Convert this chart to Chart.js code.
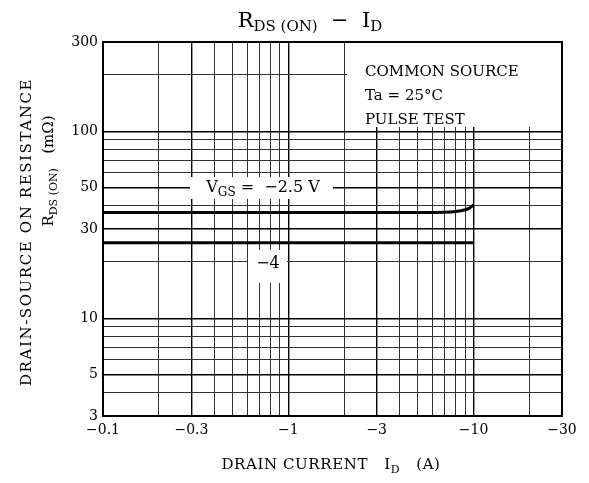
<!DOCTYPE html>
<html>
<head>
<meta charset="utf-8">
<script src="https://cdn.jsdelivr.net/npm/chart.js@4"></script>
<style>
  html, body { margin: 0; padding: 0; background: #fff; }
  canvas { display: block; }
</style>
</head>
<body>
<canvas id="rdsChart" width="589" height="483"></canvas>
<script>
// drain current |ID| (A), plotted on a log axis shown with minus signs
const xGrid = [0.1, 0.2, 0.3, 0.4, 0.5, 0.6, 0.7, 0.8, 0.9, 1, 2, 3, 4, 5, 6, 7, 8, 9, 10, 20, 30];
const xTickLabels = [0.1, 0.3, 1, 3, 10, 30];
const yGrid = [3, 4, 5, 6, 7, 8, 9, 10, 20, 30, 40, 50, 60, 70, 80, 90, 100, 200, 300];
const yTickLabels = [3, 5, 10, 30, 50, 100, 300];

// VGS = -2.5 V
const id25 = [0.1, 1, 5, 7, 8, 9, 9.5, 10];
const rds25 = [36.8, 36.8, 36.8, 36.9, 37.2, 38.0, 38.8, 40.3];
// VGS = -4 V
const id4 = [0.1, 1, 10];
const rds4 = [25.3, 25.3, 25.3];

const serif = '"DejaVu Serif", "Liberation Serif", serif';

function toPoints(xs, ys) {
    return xs.map((x, i) => ({ x: x, y: ys[i] }));
}

// draws text made of pieces, some of them subscripts
function richText(ctx, parts, x, y, align, spacing) {
    ctx.letterSpacing = (spacing || 0) + 'px';
    let total = 0;
    parts.forEach(p => {
        ctx.font = p.size + 'px ' + serif;
        total += ctx.measureText(p.t).width;
    });
    let cx = align === 'center' ? x - total / 2 : x;
    parts.forEach(p => {
        ctx.font = p.size + 'px ' + serif;
        ctx.fillText(p.t, cx, y + (p.dy || 0));
        cx += ctx.measureText(p.t).width;
    });
    ctx.letterSpacing = '0px';
}

const annotations = {
    id: 'annotations',
    beforeDatasetsDraw(chart) {
        const ctx = chart.ctx;
        const a = chart.chartArea;
        ctx.save();
        ctx.fillStyle = '#fff';
        ctx.fillRect(347, a.top + 1, a.right - 348, 84);   // condition box
        ctx.fillRect(190, 177, 143, 22);                   // VGS label
        ctx.fillRect(248, 250, 39, 33);                    // -4 label
        ctx.restore();
    },
    afterDraw(chart) {
        const ctx = chart.ctx;
        const a = chart.chartArea;
        ctx.save();
        ctx.strokeStyle = '#000';
        ctx.lineWidth = 2;
        ctx.strokeRect(a.left, a.top, a.right - a.left, a.bottom - a.top);

        ctx.fillStyle = '#000';
        ctx.textBaseline = 'alphabetic';
        ctx.textAlign = 'left';

        // title
        richText(ctx, [
            { t: 'R', size: 21 },
            { t: 'DS (ON)', size: 15, dy: 4 },
            { t: '  −  I', size: 21 },
            { t: 'D', size: 15, dy: 4 }
        ], 310, 27, 'center');

        // conditions
        ctx.font = '15px ' + serif;
        ctx.fillText('COMMON SOURCE', 365, 76);
        ctx.fillText('Ta = 25°C', 365, 100);
        ctx.fillText('PULSE TEST', 365, 124);

        // curve labels
        richText(ctx, [
            { t: 'V', size: 16 },
            { t: 'GS', size: 12, dy: 4 },
            { t: ' =  −2.5 V', size: 16 }
        ], 263, 192, 'center');
        richText(ctx, [{ t: '−4', size: 16 }], 268, 268, 'center');

        // x axis title
        richText(ctx, [
            { t: 'DRAIN CURRENT   I', size: 15 },
            { t: 'D', size: 11, dy: 4 },
            { t: '   (A)', size: 15 }
        ], 331, 469, 'center', 0.6);

        // y axis title
        ctx.translate(26, 232);
        ctx.rotate(-Math.PI / 2);
        richText(ctx, [{ t: 'DRAIN-SOURCE ON RESISTANCE', size: 15 }], 0, 5, 'center', 1.6);
        richText(ctx, [
            { t: 'R', size: 15 },
            { t: 'DS (ON)', size: 11, dy: 4 },
            { t: '   (mΩ)', size: 15 }
        ], 61, 27, 'center');
        ctx.restore();
    }
};

const gridStyle = labels => ({
    color: ctx => labels.includes(ctx.tick && ctx.tick.value) ? '#000' : '#333',
    lineWidth: ctx => labels.includes(ctx.tick && ctx.tick.value) ? 1.4 : 1,
    drawTicks: false
});

new Chart(document.getElementById('rdsChart'), {
    type: 'line',
    data: {
        datasets: [
            {
                label: 'VGS = -2.5 V',
                data: toPoints(id25, rds25),
                borderColor: '#000',
                borderWidth: 3,
                pointRadius: 0,
                cubicInterpolationMode: 'monotone'
            },
            {
                label: 'VGS = -4 V',
                data: toPoints(id4, rds4),
                borderColor: '#000',
                borderWidth: 3,
                pointRadius: 0
            }
        ]
    },
    options: {
        responsive: false,
        animation: false,
        devicePixelRatio: 1,
        layout: { padding: { left: 0, right: 27, top: 42, bottom: 0 } },
        plugins: {
            legend: { display: false },
            tooltip: { enabled: false }
        },
        scales: {
            x: {
                type: 'logarithmic',
                min: 0.1,
                max: 30,
                afterBuildTicks: scale => { scale.ticks = xGrid.map(v => ({ value: v })); },
                afterFit: scale => { scale.height = 67; },
                grid: gridStyle(xTickLabels),
                border: { display: true, color: '#000', width: 2 },
                ticks: {
                    autoSkip: false,
                    maxRotation: 0,
                    padding: 6,
                    color: '#000',
                    font: { family: serif, size: 14 },
                    callback: v => xTickLabels.includes(v) ? '−' + v : ''
                }
            },
            y: {
                type: 'logarithmic',
                min: 3,
                max: 300,
                afterBuildTicks: scale => { scale.ticks = yGrid.map(v => ({ value: v })); },
                afterFit: scale => { scale.width = 103; },
                grid: gridStyle(yTickLabels),
                border: { display: true, color: '#000', width: 2 },
                ticks: {
                    autoSkip: false,
                    padding: 5,
                    color: '#000',
                    font: { family: serif, size: 14 },
                    callback: v => yTickLabels.includes(v) ? String(v) : ''
                }
            }
        }
    },
    plugins: [annotations]
});
</script>
</body>
</html>
